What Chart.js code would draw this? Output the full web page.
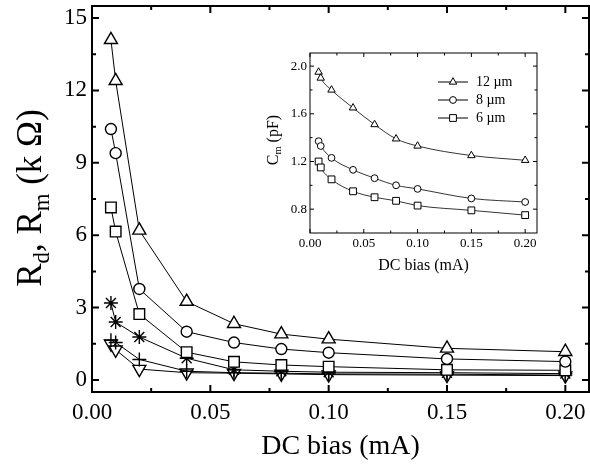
<!DOCTYPE html>
<html>
<head>
<meta charset="utf-8">
<script src="https://cdn.jsdelivr.net/npm/chart.js@4.4.1/dist/chart.umd.min.js"></script>
<style>
  html, body { margin: 0; padding: 0; background: #fff; }
  #wrap { position: relative; width: 590px; height: 468px; overflow: hidden; }
  #main { position: absolute; left: 0; top: 0; }
  #inset { position: absolute; left: 250px; top: 40px; }
</style>
</head>
<body>
<div id="wrap">
  <canvas id="main" width="590" height="468"></canvas>
  <canvas id="inset" width="300" height="245"></canvas>
</div>
<script>
// ---- data ----
const bias = [0.008, 0.01, 0.02, 0.04, 0.06, 0.08, 0.10, 0.15, 0.20];

// main plot, R (kOhm)
const rTriangle = [14.1, 12.4, 6.2, 3.25, 2.33, 1.9, 1.69, 1.31, 1.17];
const rCircle   = [10.4, 9.4, 3.77, 2.0, 1.55, 1.28, 1.13, 0.87, 0.76];
const rSquare   = [7.15, 6.15, 2.73, 1.15, 0.75, 0.62, 0.55, 0.42, 0.40];
const rStar     = [3.19, 2.4, 1.78, 0.9, 0.42, 0.36, 0.32, 0.3, 0.26];
const rPlus     = [1.65, 1.55, 0.85, 0.36, 0.3, 0.28, 0.25, 0.24, 0.2];
const rDown     = [1.5, 1.25, 0.45, 0.3, 0.28, 0.25, 0.22, 0.2, 0.18];

// inset, Cm (pF)
const cm12 = [1.95, 1.90, 1.80, 1.65, 1.51, 1.39, 1.33, 1.25, 1.21];
const cm8  = [1.37, 1.33, 1.23, 1.13, 1.06, 1.00, 0.97, 0.89, 0.86];
const cm6  = [1.20, 1.15, 1.05, 0.95, 0.90, 0.87, 0.83, 0.79, 0.75];
const insetLabels = ['12 \u00b5m', '8 \u00b5m', '6 \u00b5m'];

// ticks
const mainXTicks = [0, 0.05, 0.10, 0.15, 0.20];
const mainXMinor = [0.025, 0.075, 0.125, 0.175];
const mainYTicks = [0, 3, 6, 9, 12, 15];
const mainYMinor = [1.5, 4.5, 7.5, 10.5, 13.5];
const insetXTicks = [0, 0.05, 0.10, 0.15, 0.20];
const insetXMinor = [0.025, 0.075, 0.125, 0.175];
const insetYTicks = [0.8, 1.2, 1.6, 2.0];
const insetYMinor = [1.0, 1.4, 1.8];

const serif = "'Liberation Serif', 'Times New Roman', serif";
Chart.defaults.font.family = serif;
Chart.defaults.color = '#000';

function pts(ys) {
  return bias.map((x, i) => ({ x: x, y: ys[i] }));
}

function series(ys, style, r, extra) {
  return Object.assign({
    data: pts(ys),
    showLine: true,
    borderColor: '#000',
    borderWidth: 1,
    pointStyle: style,
    pointRadius: r,
    pointBorderColor: '#000',
    pointBackgroundColor: '#fff',
    pointBorderWidth: 1.4,
    tension: 0,
  }, extra || {});
}

// draws text with subscript parts, rotated -90deg around (cx, cy)
function drawSubText(ctx, parts, cx, cy, size) {
  ctx.save();
  ctx.translate(cx, cy);
  ctx.rotate(-Math.PI / 2);
  ctx.fillStyle = '#000';
  ctx.textBaseline = 'alphabetic';
  let w = 0;
  parts.forEach(p => {
    ctx.font = (p.sub ? size * 0.65 : size) + 'px ' + serif;
    w += ctx.measureText(p.t).width;
  });
  let x = -w / 2;
  parts.forEach(p => {
    ctx.font = (p.sub ? size * 0.65 : size) + 'px ' + serif;
    ctx.fillText(p.t, x, size * 0.35 + (p.sub ? size * 0.22 : 0));
    x += ctx.measureText(p.t).width;
  });
  ctx.restore();
}

// frame with inward ticks on all four sides
const framePlugin = {
  id: 'frame',
  beforeDatasetsDraw(chart, args, o) {
    const { ctx, chartArea: a, scales } = chart;
    ctx.save();
    ctx.strokeStyle = '#000';
    ctx.lineWidth = o.lineWidth;
    ctx.strokeRect(a.left, a.top, a.right - a.left, a.bottom - a.top);
    const tick = (vals, len) => {
      vals.forEach(v => {
        const px = scales.x.getPixelForValue(v);
        ctx.beginPath();
        ctx.moveTo(px, a.bottom); ctx.lineTo(px, a.bottom - len);
        ctx.moveTo(px, a.top); ctx.lineTo(px, a.top + len);
        ctx.stroke();
      });
    };
    const tickY = (vals, len) => {
      vals.forEach(v => {
        const py = scales.y.getPixelForValue(v);
        ctx.beginPath();
        ctx.moveTo(a.left, py); ctx.lineTo(a.left + len, py);
        ctx.moveTo(a.right, py); ctx.lineTo(a.right - len, py);
        ctx.stroke();
      });
    };
    tick(o.xMajor, o.major); tick(o.xMinor, o.minor);
    tickY(o.yMajor, o.major); tickY(o.yMinor, o.minor);
    ctx.restore();
  },
  afterDraw(chart, args, o) {
    if (o.yTitle) drawSubText(chart.ctx, o.yTitle, o.yTitleX, o.yTitleY, o.yTitleSize);
    if (o.legend) {
      const ctx = chart.ctx;
      const L = o.legend;
      ctx.save();
      chart.data.datasets.forEach((ds, i) => {
        const y = L.y + i * L.step;
        ctx.strokeStyle = '#000';
        ctx.lineWidth = 1;
        ctx.beginPath();
        ctx.moveTo(L.x, y); ctx.lineTo(L.x + L.len, y);
        ctx.stroke();
        ctx.fillStyle = '#fff';
        ctx.lineWidth = ds.pointBorderWidth;
        Chart.helpers.drawPoint(ctx, {
          pointStyle: ds.pointStyle, radius: ds.pointRadius,
          rotation: 0, borderWidth: ds.pointBorderWidth
        }, L.x + L.len / 2, y);
        ctx.fillStyle = '#000';
        ctx.font = L.size + 'px ' + serif;
        ctx.textBaseline = 'middle';
        ctx.fillText(insetLabels[i], L.x + L.len + 8, y);
      });
      ctx.restore();
    }
  }
};

function fixTicks(vals) {
  return s => { s.ticks = vals.map(v => ({ value: v })); };
}

// fixed box sizes, no extra padding for overhanging labels
function fitX(h) {
  return s => { s.height = h; s.paddingLeft = 0; s.paddingRight = 0; };
}
function fitY(w) {
  return s => { s.width = w; s.paddingTop = 0; s.paddingBottom = 0; };
}

new Chart(document.getElementById('main'), {
  type: 'scatter',
  data: {
    datasets: [
      series(rTriangle, 'triangle', 7.5),
      series(rCircle, 'circle', 5.5),
      series(rSquare, 'rect', 7.5),
      series(rStar, 'star', 7),
      series(rPlus, 'cross', 7),
      series(rDown, 'triangle', 7.5, { pointRotation: 180 }),
    ]
  },
  options: {
    responsive: false,
    animation: false,
    layout: { autoPadding: false, padding: { top: 6, right: 1, left: 0, bottom: 0 } },
    plugins: {
      legend: { display: false },
      tooltip: { enabled: false },
      frame: {
        lineWidth: 2, major: 7, minor: 4,
        xMajor: mainXTicks, xMinor: mainXMinor,
        yMajor: mainYTicks, yMinor: mainYMinor,
        yTitle: [
          { t: 'R' }, { t: 'd', sub: true }, { t: ', R' }, { t: 'm', sub: true }, { t: ' (k \u03a9)' }
        ],
        yTitleX: 29, yTitleY: 198, yTitleSize: 35,
      }
    },
    scales: {
      x: {
        type: 'linear', min: 0, max: 0.21,
        afterBuildTicks: fixTicks(mainXTicks),
        afterFit: fitX(76),
        grid: { display: false, drawTicks: false },
        border: { display: false },
        ticks: {
          font: { size: 23 }, color: '#000', padding: 7,
          maxRotation: 0, autoSkip: false,
          callback: v => v.toFixed(2)
        },
        title: {
          display: true, text: 'DC bias (mA)', color: '#000',
          font: { size: 28 }, padding: { top: 0, bottom: 5 }
        }
      },
      y: {
        type: 'linear', min: -0.5, max: 15.5,
        afterBuildTicks: fixTicks(mainYTicks),
        afterFit: fitY(92),
        grid: { display: false, drawTicks: false },
        border: { display: false },
        ticks: { font: { size: 23 }, color: '#000', padding: 5, autoSkip: false }
      }
    }
  },
  plugins: [framePlugin]
});

function insetSeries(ys, style, r) {
  return series(ys, style, r, {
    borderWidth: 0.8, pointBorderWidth: 1, tension: 0.4,
    cubicInterpolationMode: 'monotone'
  });
}

new Chart(document.getElementById('inset'), {
  type: 'scatter',
  data: {
    datasets: [
      insetSeries(cm12, 'triangle', 4.3),
      insetSeries(cm8, 'circle', 3.4),
      insetSeries(cm6, 'rect', 4.8),
    ]
  },
  options: {
    responsive: false,
    animation: false,
    layout: { autoPadding: false, padding: { top: 13, right: 13, left: 0, bottom: 0 } },
    plugins: {
      legend: { display: false },
      tooltip: { enabled: false },
      frame: {
        lineWidth: 1, major: 4, minor: 2.5,
        xMajor: insetXTicks, xMinor: insetXMinor,
        yMajor: insetYTicks, yMinor: insetYMinor,
        yTitle: [{ t: 'C' }, { t: 'm', sub: true }, { t: ' (pF)' }],
        yTitleX: 22, yTitleY: 100, yTitleSize: 16,
        legend: { x: 188, y: 42, step: 18, len: 30, size: 14 }
      }
    },
    scales: {
      x: {
        type: 'linear', min: 0, max: 0.211,
        afterBuildTicks: fixTicks(insetXTicks),
        afterFit: fitX(52),
        grid: { display: false, drawTicks: false },
        border: { display: false },
        ticks: {
          font: { size: 13 }, color: '#000', padding: 3,
          maxRotation: 0, autoSkip: false,
          callback: v => v.toFixed(2)
        },
        title: {
          display: true, text: 'DC bias (mA)', color: '#000',
          font: { size: 16 }, padding: { top: 0, bottom: 10 }
        }
      },
      y: {
        type: 'linear', min: 0.6, max: 2.11,
        afterBuildTicks: fixTicks(insetYTicks),
        afterFit: fitY(60),
        grid: { display: false, drawTicks: false },
        border: { display: false },
        ticks: {
          font: { size: 13 }, color: '#000', padding: 3, autoSkip: false,
          callback: v => v.toFixed(1)
        }
      }
    }
  },
  plugins: [framePlugin]
});
</script>
</body>
</html>
